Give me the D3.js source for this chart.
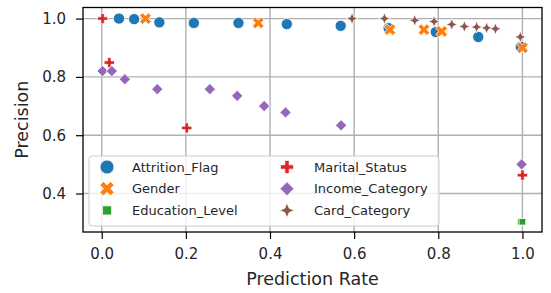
<!DOCTYPE html>
<html>
<head>
<meta charset="utf-8">
<script src="https://cdn.jsdelivr.net/npm/d3@7"></script>
<style>
  body { margin: 0; background: #fff; }
  text { font-family: "DejaVu Sans", sans-serif; fill: #262626; }
</style>
</head>
<body>
<div id="chart"></div>
<script>

// data

const features = ["Attrition_Flag", "Gender", "Education_Level", "Marital_Status", "Income_Category", "Card_Category"]
const colors = ["#1f77b4", "#ff7f0e", "#2ca02c", "#d62728", "#9467bd", "#8c564b"]
const shapes = ["circle", "x", "square", "plus", "diamond", "star"]

const attritionRate = [0.041, 0.077, 0.137, 0.219, 0.325, 0.44, 0.568, 0.682, 0.794, 0.895, 0.996]
const attritionPrec = [1.0, 0.998, 0.987, 0.985, 0.985, 0.981, 0.975, 0.967, 0.954, 0.937, 0.903]

const genderRate = [0.104, 0.372, 0.685, 0.766, 0.808, 1.0]
const genderPrec = [1.0, 0.985, 0.962, 0.962, 0.956, 0.90]

const educationRate = [0.996, 1.0]
const educationPrec = [0.303, 0.303]

const maritalRate = [0.002, 0.018, 0.202, 1.0]
const maritalPrec = [1.0, 0.849, 0.625, 0.463]

const incomeRate = [0.002, 0.024, 0.055, 0.132, 0.257, 0.322, 0.386, 0.437, 0.569, 0.998]
const incomePrec = [0.82, 0.82, 0.792, 0.758, 0.758, 0.735, 0.70, 0.678, 0.634, 0.50]

const cardRate = [0.595, 0.672, 0.744, 0.79, 0.832, 0.862, 0.891, 0.915, 0.936, 0.995]
const cardPrec = [1.0, 1.0, 0.994, 0.99, 0.98, 0.973, 0.971, 0.968, 0.965, 0.937]

const xTicks = [0.0, 0.2, 0.4, 0.6, 0.8, 1.0]
const yTicks = [0.4, 0.6, 0.8, 1.0]

const rates = [attritionRate, genderRate, educationRate, maritalRate, incomeRate, cardRate]
const precs = [attritionPrec, genderPrec, educationPrec, maritalPrec, incomePrec, cardPrec]

// one flat table, in drawing order
const points = []
features.forEach((f, i) => {
    rates[i].forEach((r, j) => points.push({feature: f, i: i, rate: r, prec: precs[i][j]}))
})

// marker shapes (r = half size)
function shapePath(kind, r) {
    if (kind == "circle") {
        return d3.symbol(d3.symbolCircle, Math.PI * r * r)()
    }
    let pts = []
    if (kind == "square") {
        pts = [[-r, -r], [r, -r], [r, r], [-r, r]]
    } else if (kind == "diamond") {
        pts = [[0, -r], [r, 0], [0, r], [-r, 0]]
    } else if (kind == "star") {
        const ri = r * 0.42
        for (let k = 0; k < 8; k++) {
            const a = k * Math.PI / 4 - Math.PI / 2
            const rr = k % 2 == 0 ? r : ri
            pts.push([rr * Math.cos(a), rr * Math.sin(a)])
        }
    } else {
        // plus, and x is the plus turned 45 degrees
        const w = r / 3
        pts = [[-w, -r], [w, -r], [w, -w], [r, -w], [r, w], [w, w], [w, r], [-w, r], [-w, w], [-r, w], [-r, -w], [-w, -w]]
        if (kind == "x") {
            const c = Math.SQRT1_2
            pts = pts.map(p => [(p[0] - p[1]) * c, (p[0] + p[1]) * c])
        }
    }
    return "M" + pts.map(p => p[0].toFixed(2) + "," + p[1].toFixed(2)).join("L") + "Z"
}

const plotSize = {circle: 5.6, x: 6.2, square: 3.3, plus: 5.2, diamond: 5.6, star: 5.8}
const legendSize = {circle: 7, x: 7.6, square: 4.6, plus: 6.6, diamond: 7, star: 7.4}

const margin = ({top: 7.5, right: 9, bottom: 61, left: 83})
const width = 551 - margin.left - margin.right,
    height = 293 - margin.top - margin.bottom;

const svg = d3.select("#chart").append("svg")
    .attr("width", 551)
    .attr("height", 293)
    .append("g")
    .attr("transform", "translate(" + margin.left + "," + margin.top + ")");

const xScale = d3.scaleLinear()
    .domain([-0.0445, 1.0465])
    .range([0, width])

const yScale = d3.scaleLinear()
    .domain([0.268, 1.038])
    .range([height, 0])

// grid
svg.append("g")
    .selectAll("line.gx")
    .data(xTicks)
    .join("line")
    .attr("x1", d => xScale(d)).attr("x2", d => xScale(d))
    .attr("y1", 0).attr("y2", height)
    .attr("stroke", "#b0b0b0").attr("stroke-width", 1.4)

svg.append("g")
    .selectAll("line.gy")
    .data(yTicks)
    .join("line")
    .attr("y1", d => yScale(d)).attr("y2", d => yScale(d))
    .attr("x1", 0).attr("x2", width)
    .attr("stroke", "#b0b0b0").attr("stroke-width", 1.4)

// points
svg.append("g")
    .selectAll("path")
    .data(points)
    .join("path")
    .attr("transform", d => `translate(${xScale(d.rate)},${yScale(d.prec)})`)
    .attr("d", d => shapePath(shapes[d.i], plotSize[shapes[d.i]]))
    .attr("fill", d => colors[d.i])
    .attr("stroke", "white")
    .attr("stroke-width", 0.8)

// axes
const xAxis = d3.axisBottom(xScale)
    .tickValues(xTicks)
    .tickFormat(d3.format(".1f"))
    .tickSizeOuter(0)
    .tickSize(7)
    .tickPadding(9)

const gx = svg.append("g")
    .attr("class", "axis x-axis")
    .attr("transform", `translate(0, ${height})`)
    .call(xAxis)

const yAxis = d3.axisLeft(yScale)
    .tickValues(yTicks)
    .tickFormat(d3.format(".1f"))
    .tickSizeOuter(0)
    .tickSize(7)
    .tickPadding(10)

const gy = svg.append("g")
    .attr("class", "axis y-axis")
    .call(yAxis)

svg.selectAll(".axis .domain").remove()
svg.selectAll(".axis line").attr("stroke", "#000").attr("stroke-width", 1.2)
svg.selectAll(".axis text")
    .attr("font-family", "DejaVu Sans")
    .attr("font-size", 15)
    .attr("fill", "#262626")

// frame
svg.append("rect")
    .attr("width", width)
    .attr("height", height)
    .attr("fill", "none")
    .attr("stroke", "#000")
    .attr("stroke-width", 1.3)

svg.append("text")
    .attr("text-anchor", "middle")
    .attr("x", width / 2)
    .attr("y", 279 - margin.top)
    .attr("dy", "0.35em")
    .attr("font-size", 17.5)
    .text("Prediction Rate");

svg.append("text")
    .attr("text-anchor", "middle")
    .attr("transform", `translate(${22 - margin.left}, ${height / 2}) rotate(-90)`)
    .attr("dy", "0.35em")
    .attr("font-size", 17.5)
    .text("Precision");

// legend
const legend = svg.append("g")
    .attr("transform", `translate(${89 - margin.left}, ${156 - margin.top})`)

legend.append("rect")
    .attr("width", 350)
    .attr("height", 70)
    .attr("rx", 3)
    .attr("fill", "white")
    .attr("fill-opacity", 0.8)
    .attr("stroke", "#cccccc")
    .attr("stroke-width", 1)

const items = legend.selectAll("g.item")
    .data(features)
    .join("g")
    .attr("class", "item")
    .attr("transform", (d, i) => `translate(${i < 3 ? 18 : 198}, ${11 + (i % 3) * 21.7})`)

items.append("path")
    .attr("d", (d, i) => shapePath(shapes[i], legendSize[shapes[i]]))
    .attr("fill", (d, i) => colors[i])
    .attr("stroke", "white")
    .attr("stroke-width", 0.8)

items.append("text")
    .attr("x", (d, i) => i < 3 ? 25 : 27)
    .attr("dy", "0.35em")
    .attr("font-size", 13)
    .text(d => d)

</script>
</body>
</html>
